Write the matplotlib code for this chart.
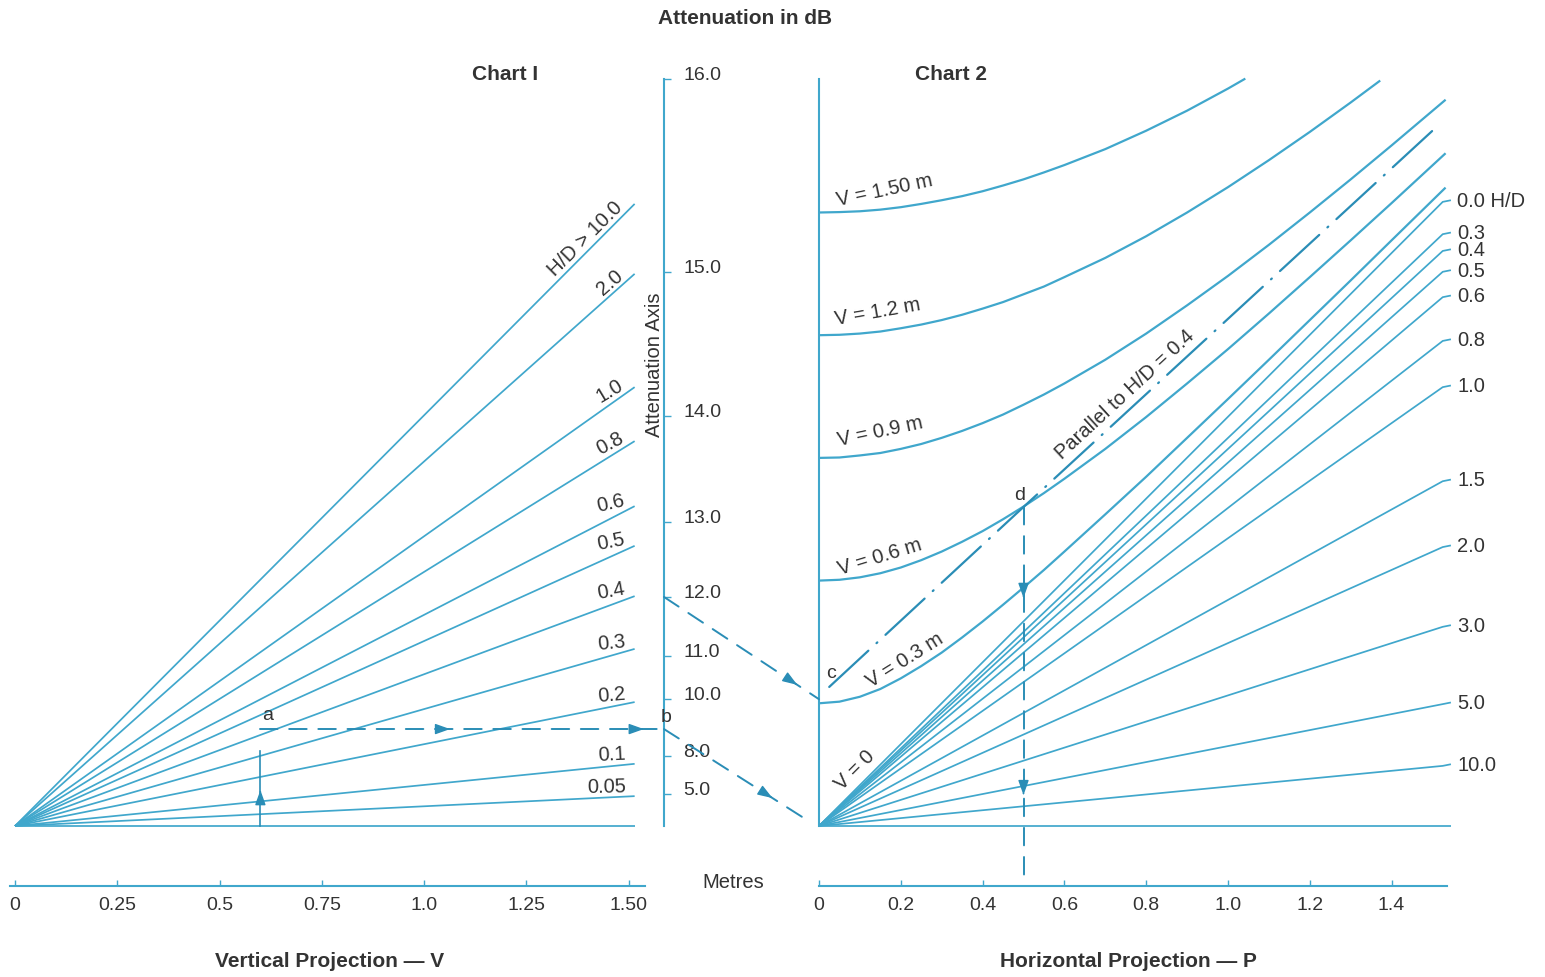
import numpy as np
import matplotlib.pyplot as plt

plt.rcParams['font.family'] = ['Liberation Sans', 'DejaVu Sans']

BLUE = '#40a7cc'
DARK = '#2a8db6'
INK = '#333333'

# Chart 1: fan lines from the origin, height reached at V = 1.515 m
chart1_hd = ['H/D > 10.0', '2.0', '1.0', '0.8', '0.6', '0.5', '0.4', '0.3', '0.2', '0.1', '0.05', '']
chart1_end = [1.521, 1.350, 1.073, 0.941, 0.782, 0.685, 0.562, 0.433, 0.303, 0.152, 0.073, 0.0]
chart1_vmax = 1.515
v_ticks = [0, 0.25, 0.5, 0.75, 1.0, 1.25, 1.5]
v_ticklabels = ['0', '0.25', '0.5', '0.75', '1.0', '1.25', '1.50']

# attenuation axis (dB) and where each value sits on the common height scale
att_labels = ['16.0', '15.0', '14.0', '13.0', '12.0', '11.0', '10.0', '8.0', '5.0']
att_pos = [1.826, 1.354, 1.002, 0.743, 0.560, 0.416, 0.311, 0.171, 0.078]

# Chart 2: straight lines, height reached at P = 1.525 m
chart2_hd = ['0.0 H/D', '0.3', '0.4', '0.5', '0.6', '0.8', '1.0', '1.5', '2.0', '3.0', '5.0', '10.0', '']
chart2_end = [1.526, 1.447, 1.406, 1.355, 1.293, 1.186, 1.073, 0.843, 0.682, 0.487, 0.298, 0.147, 0.0]
chart2_pmax = 1.525
p_ticks = [0, 0.2, 0.4, 0.6, 0.8, 1.0, 1.2, 1.4]
p_ticklabels = ['0', '0.2', '0.4', '0.6', '0.8', '1.0', '1.2', '1.4']

# Chart 2: constant-V curves
p_curve = [0.0, 0.05, 0.1, 0.15, 0.2, 0.25, 0.3, 0.35, 0.4, 0.45, 0.5, 0.55, 0.6,
           0.7, 0.8, 0.9, 1.0, 1.1, 1.2, 1.3, 1.4, 1.53]
v03 = [0.300, 0.304, 0.316, 0.335, 0.361, 0.391, 0.424, 0.461, 0.500, 0.541, 0.583, 0.626, 0.671,
       0.762, 0.854, 0.949, 1.044, 1.140, 1.237, 1.334, 1.432, 1.559]
v06 = [0.600, 0.602, 0.608, 0.618, 0.632, 0.650, 0.671, 0.695, 0.721, 0.750, 0.781, 0.814, 0.849,
       0.922, 1.000, 1.082, 1.166, 1.253, 1.342, 1.432, 1.523, 1.643]
v09 = [0.900, 0.901, 0.906, 0.912, 0.922, 0.934, 0.949, 0.966, 0.985, 1.006, 1.030, 1.055, 1.082,
       1.140, 1.204, 1.273, 1.345, 1.421, 1.500, 1.581, 1.664, 1.774]
p_v12 = [0.0, 0.05, 0.1, 0.15, 0.2, 0.25, 0.3, 0.35, 0.4, 0.45, 0.5, 0.55, 0.6,
         0.7, 0.8, 0.9, 1.0, 1.1, 1.2, 1.3, 1.37]
v12 = [1.200, 1.201, 1.204, 1.209, 1.217, 1.226, 1.237, 1.250, 1.265, 1.281, 1.300, 1.319, 1.342,
       1.389, 1.442, 1.500, 1.562, 1.628, 1.697, 1.769, 1.821]
p_v15 = [0.0, 0.05, 0.1, 0.15, 0.2, 0.25, 0.3, 0.35, 0.4, 0.45, 0.5, 0.55, 0.6,
         0.7, 0.8, 0.9, 1.0, 1.04]
v15 = [1.500, 1.501, 1.503, 1.507, 1.513, 1.521, 1.530, 1.540, 1.552, 1.566, 1.581, 1.598, 1.616,
       1.655, 1.700, 1.749, 1.803, 1.826]

# worked example
ex_v = 0.6
ex_level = 0.237
c_point = (0.025, 0.34)
d_point = (0.5, 0.78)
parallel_end = (1.5, 1.70)
c_arrive = (0.0, 0.31)
b_arrive = (-0.03, 0.015)

W, H, DPI = 1545, 978, 100
PX = 409.0                # pixels per metre on both axes
Y0, Y1 = -0.147, 1.86
BASE = 978 - 827          # baseline, pixels from the bottom

fig = plt.figure(figsize=(W / DPI, H / DPI), dpi=DPI)


def place(zero_px, x0, x1):
    return fig.add_axes([(zero_px + x0 * PX) / W, (BASE + Y0 * PX) / H,
                         (x1 - x0) * PX / W, (Y1 - Y0) * PX / H])


ax1 = place(15, -0.012, 1.54)
ax2 = place(819, 0.0, 1.535)
ax3 = fig.add_axes([664 / W, (BASE + Y0 * PX) / H, 0.0001, (Y1 - Y0) * PX / H])

for ax in (ax1, ax2, ax3):
    ax.set_ylim(Y0, Y1)
    ax.patch.set_visible(False)
    for s in ax.spines.values():
        s.set_visible(False)
        s.set_color(BLUE)
        s.set_linewidth(1.5)

for ax, ticks, labels in ((ax1, v_ticks, v_ticklabels), (ax2, p_ticks, p_ticklabels)):
    ax.spines['bottom'].set_visible(True)
    ax.set_xticks(ticks)
    ax.set_xticklabels(labels)
    ax.set_yticks([])
    ax.tick_params(axis='x', direction='in', length=4, width=1, color=BLUE,
                   labelcolor=INK, labelsize=14, pad=7)
ax1.set_xlim(-0.012, 1.54)
ax2.set_xlim(0, 1.535)
ax2.spines['left'].set_visible(True)
ax2.spines['left'].set_bounds(0, 1.826)

# attenuation axis
ax3.spines['right'].set_visible(True)
ax3.spines['right'].set_bounds(0, 1.826)
ax3.set_xticks([])
ax3.yaxis.tick_right()
ax3.set_yticks(att_pos)
ax3.set_yticklabels(att_labels)
ax3.tick_params(axis='y', direction='out', length=5, width=1, color=BLUE,
                labelcolor=INK, labelsize=14, pad=9)
for t in ax3.get_yticklabels():
    t.set_va('baseline')

# chart 1
chart1_rot = [45, 41, 31, 28, 13, 11, 10, 6, 5, 3, 1]
for i, end in enumerate(chart1_end):
    ax1.plot([0, chart1_vmax], [0, end], color=BLUE, lw=1.25, solid_capstyle='butt')
    if chart1_hd[i]:
        xl = 1.495
        ax1.text(xl, end * xl / chart1_vmax + 0.004, chart1_hd[i], rotation=chart1_rot[i],
                 rotation_mode='anchor', ha='right', va='bottom', fontsize=14.5, color=INK)

# chart 2
for lab, end in zip(chart2_hd, chart2_end):
    if lab:
        ax2.plot([0, chart2_pmax, chart2_pmax + 0.02], [0, end, end + 0.004], color=BLUE,
                 lw=1.25, solid_capstyle='butt', clip_on=False)
        ax2.text(chart2_pmax + 0.035, end + 0.004, lab, ha='left', va='center',
                 fontsize=14.5, color=INK, clip_on=False)
    else:
        ax2.plot([0, chart2_pmax + 0.02], [0, end], color=BLUE, lw=1.25,
                 solid_capstyle='butt', clip_on=False)

for pp, vv in ((p_curve, v03), (p_curve, v06), (p_curve, v09), (p_v12, v12), (p_v15, v15)):
    ax2.plot(pp, vv, color=BLUE, lw=1.6)

for s, x, y, r in (('V = 1.50 m', 0.161, 1.557, 12), ('V = 1.2 m', 0.144, 1.259, 10),
                   ('V = 0.9 m', 0.149, 0.966, 12), ('V = 0.6 m', 0.149, 0.660, 17),
                   ('V = 0.3 m', 0.210, 0.408, 32), ('V = 0', 0.088, 0.139, 45)):
    ax2.text(x, y, s, rotation=r, rotation_mode='anchor', ha='center', va='center',
             fontsize=14.5, color=INK)

# worked example, drawn on a full-figure layer in pixel units
ov = fig.add_axes([0, 0, 1, 1], zorder=5)
ov.set_xlim(0, W)
ov.set_ylim(0, H)
ov.axis('off')


def to_px(ax, pt):
    return ov.transData.inverted().transform(ax.transData.transform(pt))


def link(p0, p1, ls, arrows=(), lw=1.4):
    p0, p1 = np.asarray(p0, float), np.asarray(p1, float)
    ov.plot([p0[0], p1[0]], [p0[1], p1[1]], color=DARK, lw=lw, linestyle=ls,
            dash_capstyle='round')
    u = (p1 - p0) / np.hypot(*(p1 - p0))
    for f in arrows:
        tip = p0 + (p1 - p0) * f
        ov.annotate('', xy=tip, xytext=tip - 2 * u,
                    arrowprops=dict(arrowstyle='-|>,head_length=0.9,head_width=0.32',
                                    color=DARK, lw=1, shrinkA=0, shrinkB=0))


dash = (0, (9, 6))
a_px = to_px(ax1, (ex_v, ex_level))
b_px = to_px(ax3, (0, ex_level))
link(to_px(ax1, (ex_v, 0)), to_px(ax1, (ex_v, ex_level - 0.054)), '-', arrows=(0.48,), lw=1.2)
link(a_px, b_px, dash, arrows=(0.47, 0.95))
link(to_px(ax3, (0, att_pos[4])), to_px(ax2, c_arrive), dash, arrows=(0.86,))
link(b_px, to_px(ax2, b_arrive), dash, arrows=(0.76,))
link(to_px(ax2, d_point), to_px(ax2, (d_point[0], Y0)), dash, arrows=(0.24, 0.76))
pts = [to_px(ax2, c_point), to_px(ax2, d_point), to_px(ax2, parallel_end)]
ov.plot([p[0] for p in pts], [p[1] for p in pts], color=DARK, lw=1.6,
        linestyle=(0, (24, 5, 0.5, 5)), dash_capstyle='round')

ov.text(a_px[0] + 7, a_px[1] + 6, 'a', fontsize=14, color=INK, ha='center', va='bottom')
ov.text(b_px[0] + 2, b_px[1] + 4, 'b', fontsize=14, color=INK, ha='center', va='bottom')
cp = to_px(ax2, c_point)
ov.text(cp[0] + 2, cp[1] + 6, 'c', fontsize=14, color=INK, ha='center', va='bottom')
dp = to_px(ax2, d_point)
ov.text(dp[0] - 4, dp[1] + 4, 'd', fontsize=14, color=INK, ha='center', va='bottom')
ax2.text(0.748, 1.056, 'Parallel to H/D = 0.4', rotation=42.6, rotation_mode='anchor',
         ha='center', va='center', fontsize=14.5, color=INK)


def ftext(x, y, s, **kw):
    fig.text(x / W, 1 - y / H, s, ha='center', va='center', color=INK, **kw)


ftext(745, 18, 'Attenuation in dB', fontsize=15, fontweight='bold')
ftext(505, 75, 'Chart I', fontsize=15, fontweight='bold')
ftext(951, 75, 'Chart 2', fontsize=15, fontweight='bold')
ftext(655, 365, 'Attenuation Axis', fontsize=14.5, rotation=90)
ftext(733, 883, 'Metres', fontsize=14.5)
ftext(330, 962, 'Vertical Projection \u2014 V', fontsize=15, fontweight='bold')
ftext(1128, 962, 'Horizontal Projection \u2014 P', fontsize=15, fontweight='bold')

fig.savefig('out.png', dpi=DPI)
